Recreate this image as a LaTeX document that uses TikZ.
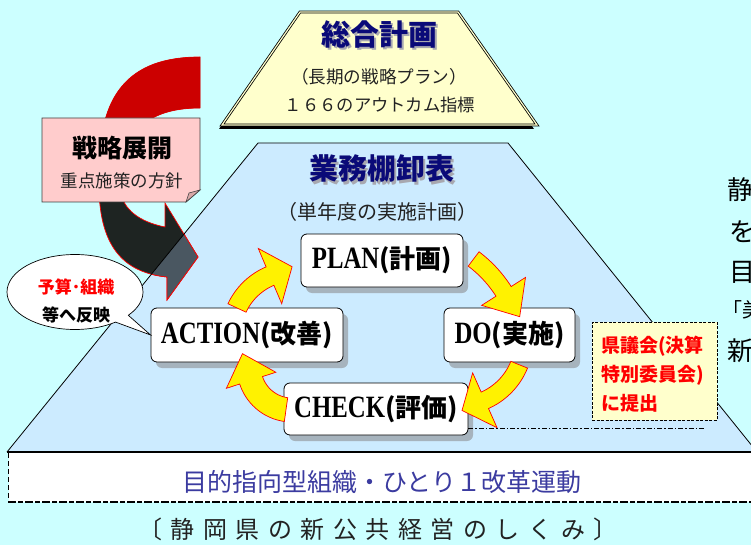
\documentclass[tikz,border=0pt]{standalone}
\usepackage{fontspec}
\setmainfont{Noto Sans CJK JP}
\newfontfamily\jp{Noto Sans CJK JP}
\newfontfamily\lat[FakeStretch=0.8]{Liberation Serif}
\usetikzlibrary{shapes.callouts,shadows}
\definecolor{bgc}{HTML}{CCFFFF}
\definecolor{trapc}{HTML}{CCEBFF}
\definecolor{topc}{HTML}{FFFFCC}
\definecolor{navyc}{HTML}{0A0A78}
\definecolor{tshadc}{HTML}{A8A8B0}
\definecolor{pinkc}{HTML}{FFCCCC}
\definecolor{foldc}{HTML}{D8A8A8}
\definecolor{darkc}{HTML}{1E2422}
\definecolor{darkin}{HTML}{4A5761}
\definecolor{redc}{HTML}{CC0000}
\definecolor{shadc}{HTML}{A6B3BD}
\definecolor{bluet}{HTML}{3B3BA0}
\definecolor{notec}{HTML}{FFFFCC}
\definecolor{textc}{HTML}{222222}
\newcommand\fs[1]{\fontsize{#1}{#1}\selectfont}
\newcommand\pl[1]{{\lat\bfseries\fs{31}#1}}
\newcommand\pj[1]{{\jp\bfseries\fs{26}#1}}
\newcommand\gp{\hspace{8.5pt}}
\newcommand\cyarrow[8]{%
\filldraw[yarrow] plot[domain=#4:#5, samples=18, smooth] ({#1+(#3+#6)*cos(\x)},{#2+(#3+#6)*sin(\x)})
 -- ({#1+(#3+#7)*cos(#5)},{#2+(#3+#7)*sin(#5)})
 -- ({#1+#3*cos(#5)+#8*cos(#5+90)},{#2+#3*sin(#5)+#8*sin(#5+90)})
 -- ({#1+(#3-#7)*cos(#5)},{#2+(#3-#7)*sin(#5)})
 -- plot[domain=#5:#4, samples=18, smooth] ({#1+(#3-#6)*cos(\x)},{#2+(#3-#6)*sin(\x)})
 -- cycle;}
\def\trappath{(258,143) -- (508,143) -- (757,452) -- (7,452) -- cycle}
\def\bigarrow{(200,57) .. controls (128,57) and (98,95) .. (99,175) .. controls (97,240) and (118,272) .. (167,277) -- (167,300) -- (198,257) -- (165,203) -- (165,227) .. controls (140,222) and (123,210) .. (120,190) .. controls (118,135) and (145,108) .. (200,108) -- cycle}
\tikzset{
 pdca/.style={draw=black, line width=0.8pt, fill=white, rounded corners=6pt, inner sep=0pt, minimum height=54pt, drop shadow={shadow xshift=5pt, shadow yshift=-6pt, fill=shadc, opacity=1}},
 yarrow/.style={fill=yellow, draw=red, line width=0.7pt, line join=miter},
 plain/.style={inner sep=0pt},
 ttl/.style={inner sep=0pt, font=\jp\bfseries\fs{29}, text=navyc},
 ttlsh/.style={inner sep=0pt, font=\jp\bfseries\fs{29}, text=tshadc},
 sub/.style={inner sep=0pt, text=textc},
 notebox/.style={fill=notec, draw=black, line width=1pt, dash pattern=on 3pt off 1.5pt},
 connector/.style={draw=black, line width=0.7pt, dash pattern=on 5pt off 2pt on 1.5pt off 2pt},
}
\begin{document}
\begin{tikzpicture}[x=1pt,y=-1pt]
\useasboundingbox (0,0) rectangle (751,545);
\clip (0,0) rectangle (751,545);
\fill[bgc] (0,0) rectangle (751,545);
% big trapezoid
\fill[trapc] \trappath;
% bottom band
\fill[white] (9,453) rectangle (760,502);
\draw[line width=0.8pt, dash pattern=on 5pt off 3pt] (8,453) -- (8,502);
\draw[line width=2pt, dash pattern=on 8pt off 2pt on 5pt off 2pt] (8,502) -- (760,502);
% big strategic arrow
\filldraw[fill=darkc, draw=red, line width=0.7pt] \bigarrow;
\begin{scope}
 \clip (0,0) rectangle (751,160);
 \fill[redc] \bigarrow;
\end{scope}
\begin{scope}
 \clip \trappath;
 \filldraw[fill=darkin, draw=red, line width=0.7pt] \bigarrow;
\end{scope}
% trapezoid border
\draw[line width=0.8pt] (258,143) -- (508,143) -- (757,452);
\draw[line width=0.8pt] (258,143) -- (7,452);
\draw[line width=1.2pt] (7,452) -- (757,452);
% top trapezoid
\fill[black] (297,16) -- (455,16) -- (534,129) -- (219,129) -- cycle;
\path[fill=topc, draw=black, double=topc, double distance=1.2pt, line width=0.8pt] (300,12) -- (458,12) -- (537,125) -- (222,125) -- cycle;
\node[ttlsh] (t1s) at (381.5,36.5) {総合計画};
\node[ttl] (t1) at (379,34) {総合計画};
\node[sub, font=\jp\fs{17.6}] (t1a) at (379,77) {（長期の戦略プラン）};
\node[sub, font=\jp\fs{17.3}] (t1b) at (380,104.5) {１６６のアウトカム指標};
% middle title
\node[ttlsh] (t2s) at (384,171.5) {業務棚卸表};
\node[ttl] (t2) at (381.5,169) {業務棚卸表};
\node[sub, font=\jp\fs{20}] (t2a) at (377.5,212) {（単年度の実施計画）};
% pink box
\filldraw[fill=pinkc, draw=black!75, line width=0.8pt] (42,118) -- (200,118) -- (200,190) -- (186,202) -- (42,202) -- cycle;
\filldraw[fill=foldc, draw=black!75, line width=0.6pt] (200,190) -- (186,202) -- (189,193) -- cycle;
\node[plain, font=\jp\bfseries\fs{25}] (s1) at (122,148.5) {戦略展開};
\node[sub, font=\jp\fs{17.5}] (s2) at (122,181) {重点施策の方針};
% PDCA boxes
\node[pdca, minimum width=162pt, minimum height=53pt] (plan) at (382,260.5) {\pl{PLAN}\pj{(計画)}};
\node[pdca, minimum width=131pt] (do) at (509.5,335) {\pl{DO}\pj{(実施)}};
\node[pdca, minimum width=192pt] (action) at (247,335) {\pl{ACTION}\pj{(改善)}};
\node[pdca, minimum width=184pt, minimum height=52pt] (check) at (376,409) {\pl{CHECK}\pj{(評価)}};
% cycle arrows
\cyarrow{295}{335}{64}{205}{247}{10}{30}{24}
\cyarrow{399}{358}{124}{307}{327.5}{9}{26}{30}
\cyarrow{458}{340}{66}{22}{66}{9}{30}{25}
\cyarrow{292}{367}{43}{98}{162}{12}{26}{28}
% callout
\node[ellipse callout, draw=black, fill=white, line width=0.7pt, minimum width=136pt, minimum height=75pt, inner sep=0pt, callout absolute pointer={(action.west)}] (bubble) at (75,292) {};
\node[plain, font=\jp\bfseries\fs{17}, text=red] (b1) at (76,287.5) {予算･組織};
\node[plain, font=\jp\bfseries\fs{17}] (b2) at (76,315) {等へ反映};
% note
\node[notebox, minimum width=125pt, minimum height=98pt, inner sep=0pt] (note) at (654.5,371) {};
\node[plain, anchor=west, align=left, text=red, font=\jp\bfseries\fontsize{19}{29}\selectfont] (notetext) at (601,374) {県議会(決算\\特別委員会)\\に提出};
\coordinate (noteend) at (704,428);
\draw[connector] (check.east |- noteend) -- (noteend);
% right side text (cut by the edge)
\node[plain, anchor=west, font=\jp\fs{26}] (r1) at (727,190) {静岡県};
\node[plain, anchor=west, font=\jp\fs{26}] (r2) at (729,232) {を};
\node[plain, anchor=west, font=\jp\fs{26}] (r3) at (729,272) {目};
\node[plain, anchor=west, font=\jp\fs{20}] (r4) at (722,310) {「美};
\node[plain, anchor=west, font=\jp\fs{26}] (r5) at (727,351) {新};
% bottom texts
\node[plain, font=\jp\fs{25}, text=bluet] (motto) at (382,482) {目的指向型組織・ひとり１改革運動};
\node[plain, font=\jp\fs{24}, text=textc] (caption) at (378,529) {〔\gp 静\gp 岡\gp 県\gp の\gp 新\gp 公\gp 共\gp 経\gp 営\gp の\gp し\gp く\gp み\gp 〕};
\end{tikzpicture}
\end{document}
